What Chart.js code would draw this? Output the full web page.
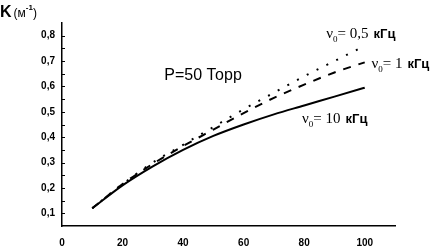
<!DOCTYPE html>
<html>
<head>
<meta charset="utf-8">
<script src="https://cdn.jsdelivr.net/npm/chart.js@4"></script>
<style>
  html, body { margin: 0; padding: 0; background: #fff; }
  #wrap { width: 436px; height: 251px; position: relative; }
</style>
</head>
<body>
<div id="wrap"><canvas id="c"></canvas></div>
<script>
// частота модуляции, кГц -> кривые K(x) при P = 50 Торр
const X_VALUES = [10, 20, 30, 40, 50, 60, 70, 80, 90, 100];
const K_05KHZ = [0.12, 0.215, 0.30, 0.37, 0.44, 0.51, 0.575, 0.64, 0.70, 0.76];
const K_1KHZ  = [0.12, 0.215, 0.295, 0.365, 0.43, 0.495, 0.555, 0.607, 0.655, 0.695];
const K_10KHZ = [0.12, 0.21, 0.285, 0.35, 0.405, 0.45, 0.49, 0.525, 0.56, 0.595];

const X_TICKS = [0, 20, 40, 60, 80, 100];
const Y_TICKS = [0.1, 0.2, 0.3, 0.4, 0.5, 0.6, 0.7, 0.8];

const SERIES = [
  { label: 'ν0 = 0,5 кГц', values: K_05KHZ, dash: [2, 9] },
  { label: 'ν0 = 1 кГц', values: K_1KHZ, dash: [8, 8] },
  { label: 'ν0 = 10 кГц', values: K_10KHZ, dash: [] },
];

const SERIF = '"Liberation Serif", "Times New Roman", serif';
const SANS = '"Liberation Sans", Arial, sans-serif';

// подписи кривых: [x, y] в координатах данных + части текста
const CURVE_LABELS = [
  { at: [87.3, 0.791], sub: '0', value: '= 0,5' },
  { at: [102.2, 0.673], sub: '0', value: '= 1' },
  { at: [79.3, 0.456], sub: '0', value: '= 10' },
];

function buildDatasets() {
  return SERIES.map(s => ({
    label: s.label,
    data: X_VALUES.map((x, i) => ({ x, y: s.values[i] })),
    borderColor: '#000',
    borderWidth: 2,
    borderDash: s.dash,
    pointRadius: 0,
    cubicInterpolationMode: 'monotone',
    fill: false,
  }));
}

function drawParts(ctx, x, y, parts) {
  let cx = x;
  parts.forEach(p => {
    ctx.font = p.font;
    ctx.fillText(p.t, cx, y + (p.dy || 0));
    cx += ctx.measureText(p.t).width + (p.gap || 0);
  });
}

const textPlugin = {
  id: 'texts',
  afterDraw(chart) {
    const { ctx, scales: { x, y } } = chart;
    ctx.save();
    ctx.fillStyle = '#000';
    ctx.textBaseline = 'alphabetic';

    // подпись оси Y
    drawParts(ctx, 0, 17, [
      { t: 'K', font: `bold 16px ${SANS}`, gap: 2 },
      { t: '(м', font: `12px ${SANS}` },
      { t: '-1', font: `bold 8px ${SANS}`, dy: -7 },
      { t: ')', font: `12px ${SANS}` },
    ]);

    // давление
    ctx.font = `16px ${SANS}`;
    ctx.textAlign = 'center';
    ctx.fillText('P=50 Торр', x.getPixelForValue(46.6), y.getPixelForValue(0.625));
    ctx.textAlign = 'left';

    CURVE_LABELS.forEach(l => {
      drawParts(ctx, x.getPixelForValue(l.at[0]), y.getPixelForValue(l.at[1]), [
        { t: 'ν', font: `15px ${SERIF}` },
        { t: l.sub, font: `9px ${SERIF}`, dy: 4 },
        { t: l.value, font: `15px ${SERIF}`, gap: 5 },
        { t: 'кГц', font: `bold 13px ${SANS}` },
      ]);
    });

    // внутренние засечки на оси Y
    ctx.strokeStyle = '#000';
    ctx.lineWidth = 1;
    for (let v = 0.1; v < 0.85; v += 0.05) {
      const py = Math.round(y.getPixelForValue(v)) + 0.5;
      ctx.beginPath();
      ctx.moveTo(x.left, py);
      ctx.lineTo(x.left + 3, py);
      ctx.stroke();
    }
    ctx.restore();
  },
};

new Chart(document.getElementById('c'), {
  type: 'line',
  data: { datasets: buildDatasets() },
  options: {
    responsive: true,
    maintainAspectRatio: false,
    animation: false,
    devicePixelRatio: 1,
    layout: { padding: { top: 23, right: 41, left: 0, bottom: 0 } },
    plugins: { legend: { display: false }, tooltip: { enabled: false } },
    scales: {
      x: {
        type: 'linear',
        min: 0,
        max: 110,
        afterBuildTicks: s => { s.ticks = X_TICKS.map(v => ({ value: v })); },
        afterFit: s => { s.height = 25; },
        ticks: {
          color: '#000',
          padding: 11,
          font: { family: SANS, size: 10, weight: 'bold' },
          callback: v => String(v),
        },
        grid: { display: false, drawTicks: false },
        border: { display: true, color: '#000', width: 1.5 },
      },
      y: {
        min: 0.05,
        max: 0.85,
        afterBuildTicks: s => { s.ticks = Y_TICKS.map(v => ({ value: v })); },
        afterFit: s => { s.width = 62; },
        ticks: {
          color: '#000',
          padding: 7,
          font: { family: SANS, size: 10, weight: 'bold' },
          callback: v => v.toFixed(1).replace('.', ','),
        },
        grid: { display: false, drawTicks: false },
        border: { display: true, color: '#000', width: 1.5 },
      },
    },
  },
  plugins: [textPlugin],
});
</script>
</body>
</html>
